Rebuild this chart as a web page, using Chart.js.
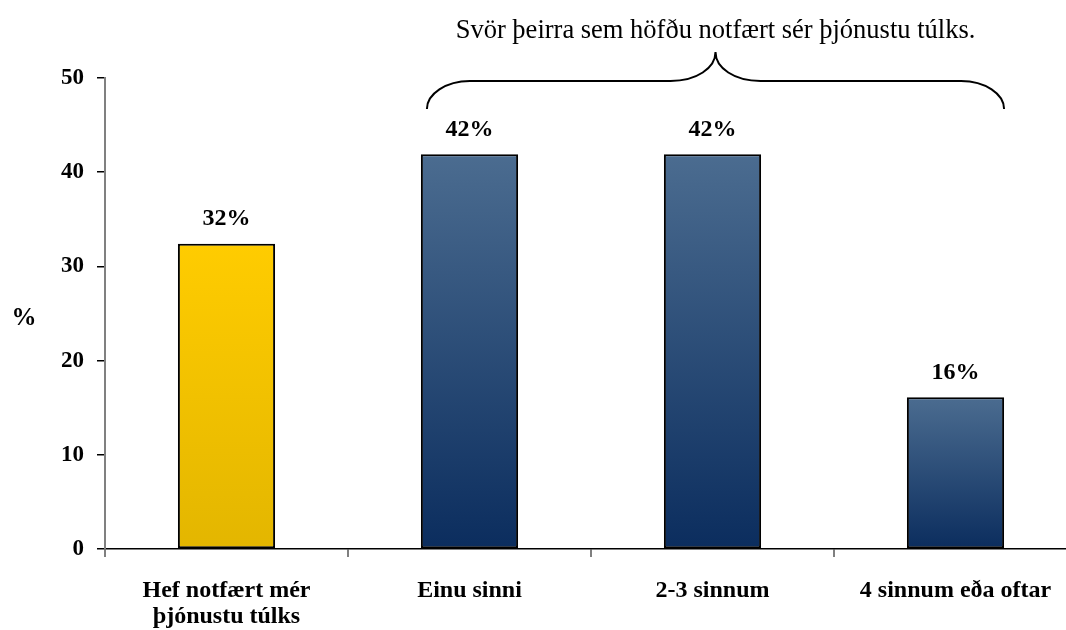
<!DOCTYPE html>
<html>
<head>
<meta charset="utf-8">
<script src="https://cdn.jsdelivr.net/npm/chart.js@4"></script>
<style>
  html, body { margin: 0; padding: 0; background: #fff; overflow: hidden; }
</style>
</head>
<body>
<canvas id="chart" width="1090" height="630"></canvas>
<script>
// gögn
const categories = [['Hef notfært mér', 'þjónustu túlks'], 'Einu sinni', '2-3 sinnum', '4 sinnum eða oftar'];
const values = [32.4, 41.9, 41.9, 16.1];
const valueLabels = ['32%', '42%', '42%', '16%'];
const yTicks = [0, 10, 20, 30, 40, 50];
const caption = 'Svör þeirra sem höfðu notfært sér þjónustu túlks.';

const serif = '"Liberation Serif", "Times New Roman", serif';
const ctx = document.getElementById('chart');

function barGradient(context) {
  const chart = context.chart;
  const area = chart.chartArea;
  const yScale = chart.scales.y;
  const yellow = context.dataIndex === 0;
  if (!area || !yScale) return yellow ? '#f2c200' : '#1f4a7a';
  const top = yScale.getPixelForValue(values[context.dataIndex]);
  if (!isFinite(top) || !isFinite(area.bottom)) return yellow ? '#f2c200' : '#1f4a7a';
  const g = chart.ctx.createLinearGradient(0, top, 0, area.bottom);
  if (yellow) {
    g.addColorStop(0, '#ffcc00');
    g.addColorStop(1, '#e3b600');
  } else {
    g.addColorStop(0, '#4b6c90');
    g.addColorStop(1, '#0b2d5e');
  }
  return g;
}

// prósentur fyrir ofan súlur
const labelPlugin = {
  id: 'labels',
  afterDatasetsDraw(chart) {
    const c = chart.ctx;
    const meta = chart.getDatasetMeta(0);
    c.save();
    c.font = 'bold 24px ' + serif;
    c.fillStyle = '#000';
    c.textAlign = 'center';
    c.textBaseline = 'middle';
    meta.data.forEach((bar, i) => {
      c.fillText(valueLabels[i], bar.x, bar.y - 25);
    });
    c.restore();
  }
};

// sviginn og textinn efst + "%" ás-titill
const bracePlugin = {
  id: 'brace',
  afterDraw(chart) {
    const c = chart.ctx;
    const meta = chart.getDatasetMeta(0);
    const b1 = meta.data[1], b3 = meta.data[3];
    const x0 = b1.x - b1.width / 2 + 6;
    const x1 = b3.x + b3.width / 2;
    const xm = (x0 + x1) / 2;
    const yBot = 109, yMid = 81, yTop = 52;
    const ew = 43, mw = 45;
    c.save();
    c.strokeStyle = '#000';
    c.lineWidth = 2;
    c.beginPath();
    c.moveTo(x0, yBot);
    c.bezierCurveTo(x0, yBot - 15, x0 + ew - 24, yMid, x0 + ew, yMid);
    c.lineTo(xm - mw, yMid);
    c.bezierCurveTo(xm - mw + 26, yMid, xm, yMid - 13, xm, yTop);
    c.bezierCurveTo(xm, yMid - 13, xm + mw - 26, yMid, xm + mw, yMid);
    c.lineTo(x1 - ew, yMid);
    c.bezierCurveTo(x1 - ew + 24, yMid, x1, yBot - 15, x1, yBot);
    c.stroke();

    c.font = '26.5px ' + serif;
    c.fillStyle = '#000';
    c.textAlign = 'center';
    c.textBaseline = 'middle';
    c.fillText(caption, xm, 31);

    c.font = 'bold 25px ' + serif;
    c.fillText('%', 24, 319);
    c.restore();
  }
};

new Chart(ctx, {
  type: 'bar',
  data: {
    labels: categories,
    datasets: [{
      data: values,
      backgroundColor: barGradient,
      borderColor: '#000',
      borderWidth: 2,
      borderSkipped: false,
      barPercentage: 0.4,
      categoryPercentage: 1.0
    }]
  },
  options: {
    responsive: false,
    animation: false,
    layout: { padding: { top: 78, right: 13, left: 0, bottom: 0 } },
    plugins: {
      legend: { display: false },
      tooltip: { enabled: false }
    },
    scales: {
      x: {
        afterFit: (s) => { s.height = 81; },
        border: { color: '#000', width: 1.5 },
        grid: { drawOnChartArea: false, tickLength: 8, color: '#808080', lineWidth: 2, offset: true },
        ticks: {
          color: '#000',
          font: { family: serif, size: 24, weight: 'bold', lineHeight: 1.08 },
          padding: 21,
          maxRotation: 0,
          autoSkip: false
        }
      },
      y: {
        min: 0,
        max: 50,
        afterFit: (s) => { s.width = 105; },
        afterBuildTicks: (s) => { s.ticks = yTicks.map(v => ({ value: v })); },
        border: { color: '#808080', width: 2 },
        grid: { drawOnChartArea: false, tickLength: 8, color: '#000', lineWidth: 1.5 },
        ticks: {
          color: '#000',
          font: { family: serif, size: 23, weight: 'bold' },
          padding: 13
        }
      }
    }
  },
  plugins: [labelPlugin, bracePlugin]
});
</script>
</body>
</html>
